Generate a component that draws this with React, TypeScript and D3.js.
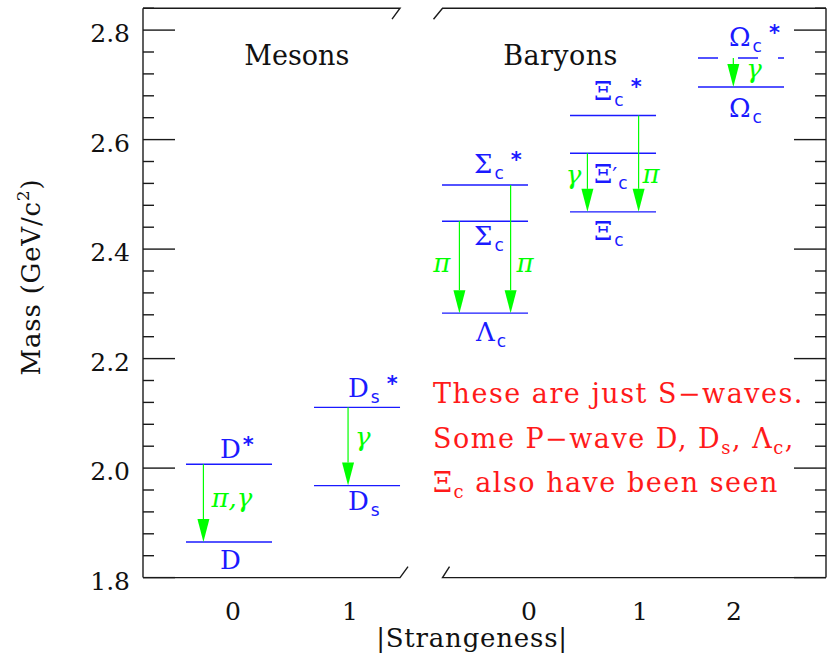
import React from "react";
import * as d3 from "d3";

const W = 827;
const H = 655;

// ---- data ----
const levelNames = ["D", "D*", "Ds", "Ds*", "Λc", "Σc", "Σc*", "Ξc", "Ξ'c", "Ξc*", "Ωc", "Ωc*"];
const levelColumn = [0, 0, 1, 1, 2, 2, 2, 3, 3, 3, 4, 4];
const levelMass = [1.865, 2.007, 1.968, 2.111, 2.283, 2.451, 2.517, 2.468, 2.575, 2.644, 2.696, 2.749];
const levelDashed = [false, false, false, false, false, false, false, false, false, false, false, true];

const labelBase = ["D", "D", "D", "D", "Λ", "Σ", "Σ", "Ξ", "Ξ", "Ξ", "Ω", "Ω"];
const labelSub = ["", "", "s", "s", "c", "c", "c", "c", "c", "c", "c", "c"];
const labelPrime = [false, false, false, false, false, false, false, false, true, false, false, false];
const labelStar = [false, true, false, true, false, false, true, false, false, true, false, true];

const arrowFrom = ["D*", "Ds*", "Σc", "Σc*", "Ξ'c", "Ξc*", "Ωc*"];
const arrowTo = ["D", "Ds", "Λc", "Λc", "Ξc", "Ξc", "Ωc"];
const arrowX = [-0.2, 0.93, 1.8, 2.2, 2.8, 3.2, 3.94];
const arrowLabel = ["π,γ", "γ", "π", "π", "γ", "π", "γ"];

const yMajorTicks = [1.8, 2.0, 2.2, 2.4, 2.6, 2.8];
const yTickLabels = ["1.8", "2.0", "2.2", "2.4", "2.6", "2.8"];
const xTickPos = [0.031, 0.945, 2.344, 3.211, 3.945];
const xTickLabels = ["0", "1", "0", "1", "2"];

const noteLines = [
  [["These are just S−waves.", ""]],
  [["Some P−wave D, D", ""], ["s", "sub"], [", Λ", ""], ["c", "sub"], [",", ""]],
  [["Ξ", ""], ["c", "sub"], [" also have been seen", ""]],
];

// ---- layout (pixel offsets for labels) ----
const labelDx = [-9, -9, -9, -9, -9, -11, -11, -19, -19, -19, -12, -12];
const labelDy = [27, -6, 24, -10, 28, 24, -12, 28, 30, -16, 30, -12];
const arrowLabelSide = ["r", "r", "l", "r", "l", "r", "r"];
const arrowLabelDx = [8, 7, 9, 6, 6, 4, 13];
const arrowLabelAt = [1.929, 2.04, 2.358, 2.358, 2.519, 2.521, 2.712];

const SERIF = "'DejaVu Serif', serif";
const SANS = "'DejaVu Sans', sans-serif";
const BLUE = "#1a1aff";
const GREEN = "#00ff00";
const RED = "#ff1a1a";

export default function App() {
  const xs = d3.scaleLinear().domain([-0.672, 4.664]).range([143, 826]);
  const ys = d3.scaleLinear().domain([1.8, 2.84]).range([577.6, 8.2]);

  const idx = (n: string) => levelNames.indexOf(n);
  const halfW = 0.336;

  const minor = d3.range(0, 27).map((i) => +(1.8 + i * 0.04).toFixed(2));

  const left = xs.range()[0];
  const right = xs.range()[1];
  const top = ys.range()[1];
  const bot = ys.range()[0];
  const bL = xs(1.336);
  const bR = xs(1.668);

  const headLen = 23;
  const headHalf = 6;

  return (
    <svg width={W} height={H} style={{ position: "absolute", left: 0, top: 0, background: "#fff" }}>
      {/* frame */}
      <g stroke="#1a1a1a" strokeWidth={1.4} fill="none">
        <line x1={left} y1={top} x2={left} y2={bot} />
        <line x1={right} y1={top} x2={right} y2={bot} />
        <path d={`M${left},${top}H${bL}L${bL - 8},${top + 11}`} />
        <path d={`M${bR - 9},${top + 11}L${bR},${top}H${right}`} />
        <path d={`M${left},${bot}H${bL}L${bL + 8},${bot - 11}`} />
        <path d={`M${bR + 7},${bot - 11}L${bR},${bot}H${right}`} />
        {minor.map((m) => {
          const major = yMajorTicks.some((t) => Math.abs(t - m) < 1e-6);
          const len = major ? 32 : 11;
          return (
            <g key={m}>
              <line x1={left} x2={left + len} y1={ys(m)} y2={ys(m)} />
              <line x1={right} x2={right - len} y1={ys(m)} y2={ys(m)} />
            </g>
          );
        })}
      </g>

      {/* y tick labels */}
      {yMajorTicks.map((t, i) => (
        <text key={t} x={130} y={ys(t) + 12} textAnchor="end" fontFamily={SERIF} fontSize={25} fill="#111">
          {yTickLabels[i]}
        </text>
      ))}

      {/* x tick labels */}
      {xTickPos.map((p, i) => (
        <text key={i} x={xs(p)} y={620} textAnchor="middle" fontFamily={SERIF} fontSize={25} fill="#111">
          {xTickLabels[i]}
        </text>
      ))}

      {/* axis titles */}
      <text x={472} y={647} textAnchor="middle" fontFamily={SERIF} fontSize={26} letterSpacing={0.8} fill="#111">
        |Strangeness|
      </text>
      <text
        transform={`translate(40,277) rotate(-90)`}
        textAnchor="middle"
        fontFamily={SERIF}
        fontSize={26}
        letterSpacing={0.8}
        fill="#111"
      >
        Mass (GeV/c<tspan fontSize={17} dy={-11}>2</tspan>
        <tspan dy={11}>)</tspan>
      </text>

      {/* category titles */}
      <text x={xs(0.53)} y={ys(2.736)} textAnchor="middle" fontFamily={SERIF} fontSize={27} fill="#111">
        Mesons
      </text>
      <text x={xs(2.59)} y={ys(2.736)} textAnchor="middle" fontFamily={SERIF} fontSize={27} letterSpacing={0.4} fill="#111">
        Baryons
      </text>

      {/* levels */}
      {levelNames.map((n, i) => (
        <line
          key={n}
          x1={xs(levelColumn[i] - halfW)}
          x2={xs(levelColumn[i] + halfW)}
          y1={ys(levelMass[i])}
          y2={ys(levelMass[i])}
          stroke={BLUE}
          strokeWidth={1.4}
          strokeDasharray={levelDashed[i] ? "20 20" : undefined}
        />
      ))}

      {/* level labels */}
      {levelNames.map((n, i) => (
        <text
          key={"l" + n}
          x={xs(levelColumn[i]) + labelDx[i]}
          y={ys(levelMass[i]) + labelDy[i]}
          fontFamily={SERIF}
          fontSize={26}
          fill={BLUE}
        >
          {labelBase[i]}
          {labelPrime[i] ? <tspan fontSize={22}>′</tspan> : null}
          {labelSub[i] ? (
            <tspan fontFamily={SANS} fontSize={17} dy={6} dx={labelPrime[i] ? 1 : 2}>
              {labelSub[i]}
            </tspan>
          ) : null}
          {labelStar[i] ? (
            <tspan fontFamily={SANS} fontSize={21} fontWeight="bold" dy={labelSub[i] ? -12 : -6} dx={labelSub[i] ? 7 : 2}>
              *
            </tspan>
          ) : null}
        </text>
      ))}

      {/* arrows */}
      {arrowFrom.map((f, i) => {
        const x = xs(arrowX[i]);
        const y0 = ys(levelMass[idx(f)]);
        const y1 = ys(levelMass[idx(arrowTo[i])]);
        const lx = arrowLabelSide[i] === "r" ? x + arrowLabelDx[i] : x - arrowLabelDx[i];
        return (
          <g key={"a" + i}>
            <line x1={x} x2={x} y1={y0} y2={y1 - headLen} stroke={GREEN} strokeWidth={1.2} />
            <path
              d={`M${x},${y1}L${x - headHalf},${y1 - headLen}L${x + headHalf},${y1 - headLen}Z`}
              fill={GREEN}
            />
            <text
              x={lx}
              y={ys(arrowLabelAt[i])}
              textAnchor={arrowLabelSide[i] === "r" ? "start" : "end"}
              fontFamily={SERIF}
              fontStyle="italic"
              fontSize={26}
              fill={GREEN}
            >
              {arrowLabel[i]}
            </text>
          </g>
        );
      })}

      {/* note */}
      {noteLines.map((line, li) => (
        <text
          key={"n" + li}
          x={xs(1.594)}
          y={403 + li * 44.5}
          fontFamily={SERIF}
          fontSize={27}
          letterSpacing={1.5}
          fill={RED}
        >
          {line.map(([t, k], j) =>
            k === "sub" ? (
              <tspan key={j} fontSize={18} dy={6}>
                {t}
              </tspan>
            ) : (
              <tspan key={j} dy={j > 0 && line[j - 1][1] === "sub" ? -6 : 0}>
                {t}
              </tspan>
            )
          )}
        </text>
      ))}
    </svg>
  );
}
